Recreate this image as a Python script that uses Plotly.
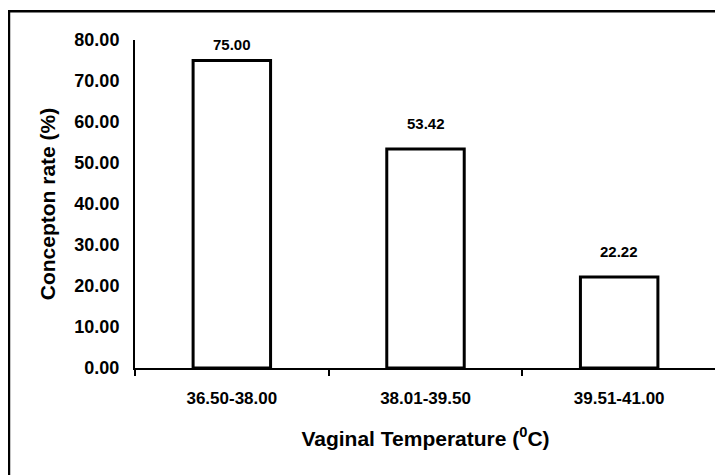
import plotly.graph_objects as go

categories = ["36.50-38.00", "38.01-39.50", "39.51-41.00"]
conception_rate = [75.00, 53.42, 22.22]
value_labels = ["75.00", "53.42", "22.22"]

FONT = "Liberation Sans, Arial, sans-serif"

fig = go.Figure()
fig.add_trace(go.Bar(
    x=categories, y=conception_rate, width=0.4,
    marker=dict(color="white", line=dict(color="black", width=3)),
    hoverinfo="skip",
))

for c, v, t in zip(categories, conception_rate, value_labels):
    fig.add_annotation(x=c, y=v, text="<b>" + t + "</b>", showarrow=False, yanchor="bottom",
                       yshift=6 if v > 70 else 15,
                       font=dict(family=FONT, size=15, color="black"))

# outer frame
fig.add_shape(type="rect", xref="paper", yref="paper",
              x0=-0.2169, x1=1.03, y0=-0.40, y1=1.088,
              line=dict(color="black", width=2.5), layer="below")

fig.update_layout(
    width=723, height=475,
    margin=dict(l=127, r=15, t=32, b=115),
    paper_bgcolor="white", plot_bgcolor="white",
    showlegend=False,
    font=dict(family=FONT, size=16, color="black"),
    xaxis=dict(
        automargin=False,
        showline=True, linecolor="black", linewidth=2,
        ticks="outside", tickson="boundaries", ticklen=6, tickcolor="black", tickwidth=1.5,
        ticklabelstandoff=14,
        showgrid=False, zeroline=False,
        tickfont=dict(family=FONT, size=17, color="black", weight="bold"),
        title=dict(text="Vaginal Temperature (<sup>0</sup>C)", standoff=24,
                   font=dict(family=FONT, size=21, color="black", weight="bold")),
    ),
    yaxis=dict(
        automargin=False,
        range=[0, 80], dtick=10, tickformat=".2f",
        showline=True, linecolor="black", linewidth=2,
        ticks="", ticklabelstandoff=10,
        showgrid=False, zeroline=False,
        tickfont=dict(family=FONT, size=18, color="black", weight="bold"),
        title=dict(text="Concepton rate (%)", standoff=13,
                   font=dict(family=FONT, size=21, color="black", weight="bold")),
    ),
)

fig.write_html("out.html")
